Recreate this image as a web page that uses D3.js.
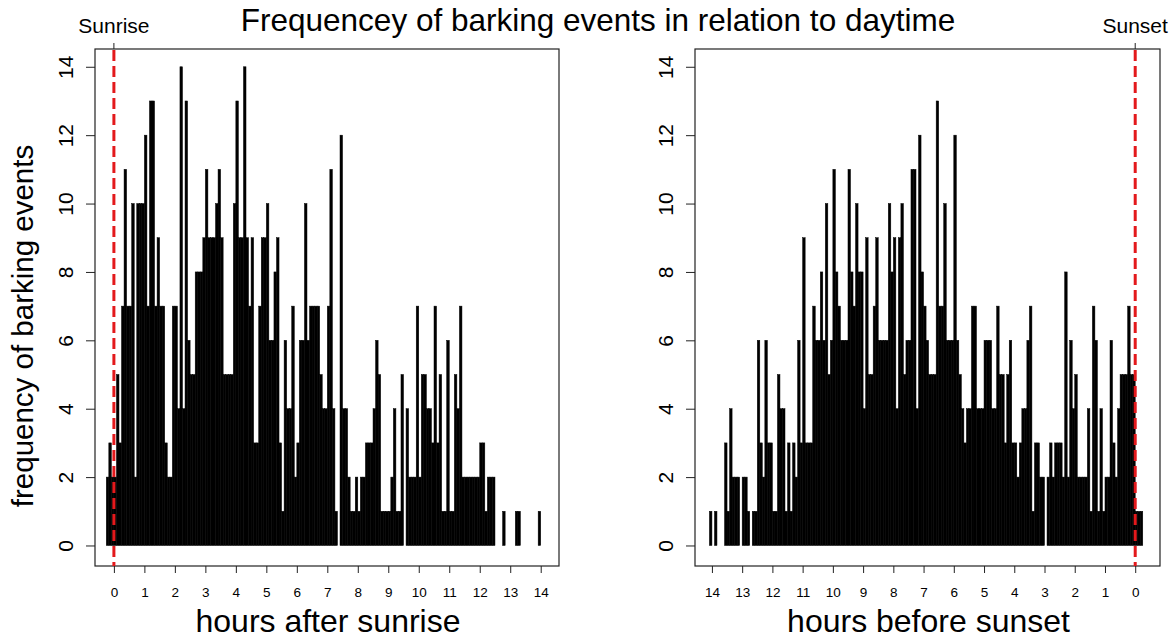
<!DOCTYPE html>
<html>
<head>
<meta charset="utf-8">
<script src="https://cdn.jsdelivr.net/npm/d3@7"></script>
<style>
  html, body { margin: 0; padding: 0; background: #fff; }
  svg { display: block; }
  text { font-family: "Liberation Sans", Arial, sans-serif; fill: #000; }
</style>
</head>
<body>
<svg id="chart" width="1173" height="640"></svg>
<script>
// ---------------- data ----------------
const chartTitle = "Frequencey of barking events in relation to daytime";
const yAxisTitle = "frequency of barking events";
const leftXTitle = "hours after sunrise";
const rightXTitle = "hours before sunset";
const leftMarkerLabel = "Sunrise";
const rightMarkerLabel = "Sunset";

const binWidth = 1 / 12;           // 5-minute bins, in hours
const leftFirstBinStart = -0.25;   // hours after sunrise of the first bin's left edge
// counts, from earliest bin (just before sunrise) to latest
const leftCounts = [
  2,3,2,2,5,3,7,11,7,7, 10,2,10,10,10,12,7,13,13,7,
  9,7,7,3,2,2,7,7,4,14, 4,13,6,5,5,8,8,8,9,11,
  9,9,9,10,11,9,5,5,5,5, 10,13,9,9,14,9,7,9,3,3,
  7,9,9,10,6,6,8,9,3,1, 6,4,4,7,2,3,6,6,10,6,
  7,7,7,7,5,4,4,7,11,4, 1,0,12,4,4,2,1,1,2,1,
  2,2,3,3,3,4,6,5,1,1, 1,1,2,4,1,1,5,0,4,2,
  2,2,7,2,5,5,4,4,3,7, 3,5,1,1,6,1,1,5,4,7,
  2,2,2,2,2,2,2,3,3,1, 2,2,2,0,0,0,1,0,0,0,
  0,1,1,0,0,0,0,0,0,0, 1
];

const rightFirstBinStart = 14 + 1 / 12; // hours before sunset of the first (leftmost) bin's left edge
// counts, from the leftmost bin (long before sunset) to the rightmost (just after sunset)
const rightCounts = [
  1,0,1,0,0,0,3,1,4,2, 2,2,0,2,2,1,0,1,1,6,
  3,2,6,3,3,1,1,5,4,4, 1,3,1,3,2,6,3,9,3,3,
  3,7,6,6,8,6,10,5,6,11, 8,7,6,6,6,11,8,7,10,8,
  8,4,9,5,5,7,9,6,6,6, 6,10,8,9,4,9,10,5,6,6,
  11,11,4,12,8,7,6,5,5,5, 13,7,7,10,6,6,6,12,6,5,
  4,3,4,4,7,7,4,4,4,6, 6,6,4,4,7,5,5,3,5,6,
  3,3,2,3,4,4,6,7,1,3, 3,2,2,0,2,3,2,3,3,3,
  2,8,2,6,4,5,2,2,2,2, 4,1,7,6,1,4,1,2,2,6,
  3,2,4,5,5,5,7,5,5,1, 1,1
];

const xTicks = d3.range(0, 15);        // 0..14
const yTicks = [0, 2, 4, 6, 8, 10, 12, 14];

// ---------------- layout ----------------
const svg = d3.select("#chart");
const plotTop = 49, plotBottom = 566;
const yScale = d3.scaleLinear().domain([-0.6, 14.52]).range([plotBottom, plotTop]);

const panels = [
  {
    x0: 95, x1: 559,
    xScale: d3.scaleLinear().domain([-0.62, 14.6]).range([95, 559]),
    counts: leftCounts,
    binStart: i => leftFirstBinStart + i * binWidth,
    binEnd: i => leftFirstBinStart + (i + 1) * binWidth,
    xTitle: leftXTitle,
    marker: leftMarkerLabel
  },
  {
    x0: 695, x1: 1160,
    xScale: d3.scaleLinear().domain([14.56, -0.82]).range([695, 1160]),
    counts: rightCounts,
    binStart: i => rightFirstBinStart - i * binWidth,
    binEnd: i => rightFirstBinStart - (i + 1) * binWidth,
    xTitle: rightXTitle,
    marker: rightMarkerLabel
  }
];

panels.forEach(p => {
  const g = svg.append("g");
  const xs = p.xScale;

  // bars
  const bins = p.counts.map((c, i) => ({ c, a: p.binStart(i), b: p.binEnd(i) }))
                       .filter(d => d.c > 0);
  g.append("g").selectAll("rect").data(bins).join("rect")
    .attr("x", d => Math.min(xs(d.a), xs(d.b)))
    .attr("width", d => Math.abs(xs(d.b) - xs(d.a)))
    .attr("y", d => yScale(d.c))
    .attr("height", d => yScale(0) - yScale(d.c))
    .attr("fill", "#000")
    .attr("stroke", "#000")
    .attr("stroke-width", 0.5);

  // frame
  g.append("rect")
    .attr("x", p.x0).attr("y", plotTop)
    .attr("width", p.x1 - p.x0).attr("height", plotBottom - plotTop)
    .attr("fill", "none").attr("stroke", "#222").attr("stroke-width", 1.2);

  // red dashed line at 0
  g.append("line")
    .attr("x1", xs(0)).attr("x2", xs(0))
    .attr("y1", plotTop + 1).attr("y2", plotBottom)
    .attr("stroke", "#e3191c").attr("stroke-width", 3)
    .attr("stroke-dasharray", "11,5");

  // x axis
  const xAxis = d3.axisBottom(xs).tickValues(xTicks).tickSize(7)
    .tickFormat(d3.format("d"));
  const gx = g.append("g").attr("transform", `translate(0,${plotBottom})`).call(xAxis);
  gx.select(".domain").remove();
  gx.selectAll("line").attr("stroke", "#222");
  gx.selectAll("text").attr("font-size", 13.5).attr("dy", 0).attr("y", 31)
    .attr("font-family", "Liberation Sans, Arial, sans-serif").attr("fill", "#111");

  // y axis (labels rotated, R style)
  const yAxis = d3.axisLeft(yScale).tickValues(yTicks).tickSize(9).tickFormat(d3.format("d"));
  const gy = g.append("g").attr("transform", `translate(${p.x0},0)`).call(yAxis);
  gy.select(".domain").remove();
  gy.selectAll("line").attr("stroke", "#222");
  gy.selectAll("text")
    .attr("font-size", 21)
    .attr("font-family", "Liberation Sans, Arial, sans-serif")
    .attr("fill", "#111")
    .attr("text-anchor", "middle")
    .attr("x", 0).attr("dy", 0)
    .attr("transform", "translate(-22,0) rotate(-90)");

  // top marker tick + label
  g.append("line")
    .attr("x1", xs(0)).attr("x2", xs(0))
    .attr("y1", plotTop).attr("y2", plotTop - 6)
    .attr("stroke", "#222").attr("stroke-width", 1);
  g.append("text")
    .attr("x", xs(0)).attr("y", 33)
    .attr("text-anchor", "middle")
    .attr("font-size", 21)
    .attr("fill", "#111")
    .text(p.marker);

  // x title
  g.append("text")
    .attr("x", (p.x0 + p.x1) / 2 + 1).attr("y", 632)
    .attr("text-anchor", "middle")
    .attr("font-size", 32)
    .attr("fill", "#111")
    .text(p.xTitle);
});

// y title
svg.append("text")
  .attr("transform", `translate(33,326) rotate(-90)`)
  .attr("text-anchor", "middle")
  .attr("font-size", 29.5)
  .attr("fill", "#111")
  .text(yAxisTitle);

// main title
svg.append("text")
  .attr("x", 598).attr("y", 31)
  .attr("text-anchor", "middle")
  .attr("font-size", 31.5)
  .attr("fill", "#111")
  .text(chartTitle);
</script>
</body>
</html>
